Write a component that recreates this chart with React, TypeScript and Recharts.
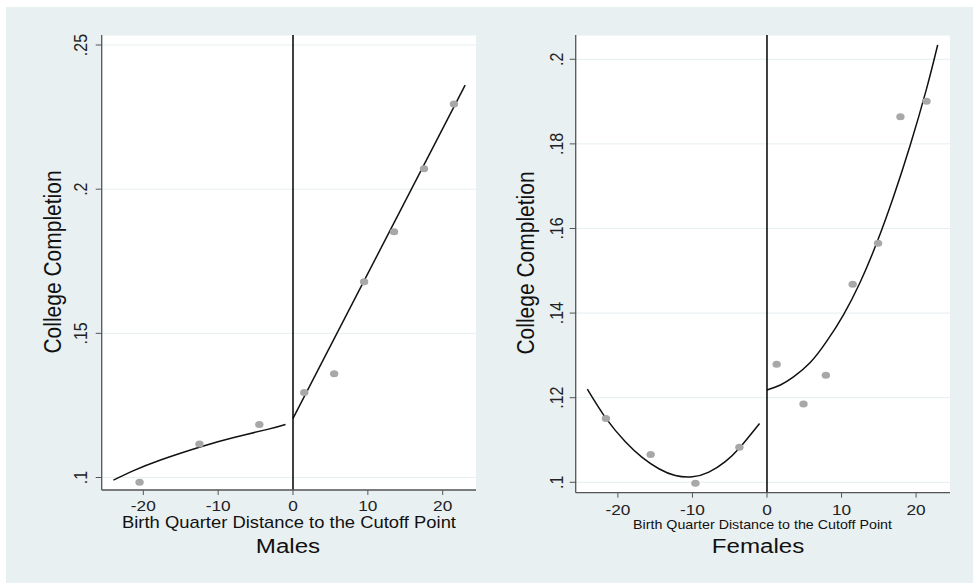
import React from 'react';
import { ComposedChart, Line, Scatter, XAxis, YAxis, CartesianGrid, ReferenceLine } from 'recharts';

// ---- data ----
const xTicks = [-20, -10, 0, 10, 20];
const maleYTicks = [0.1, 0.15, 0.2, 0.25];
const femaleYTicks = [0.1, 0.12, 0.14, 0.16, 0.18, 0.2];

const malePointX = [-20.5, -12.5, -4.5, 1.5, 5.5, 9.5, 13.5, 17.5, 21.5];
const malePointY = [0.0984, 0.1116, 0.1184, 0.1295, 0.136, 0.1679, 0.1852, 0.2071, 0.2295];

const maleFitLeftX = [-24, -21.3, -17.7, -12.3, -7.9, -3.4, -1];
const maleFitLeftY = [0.0991, 0.1024, 0.1061, 0.1107, 0.1139, 0.1167, 0.1184];

const maleFitRightX = [0, 23];
const maleFitRightY = [0.1205, 0.2361];

const femalePointX = [-21.6, -15.6, -9.6, -3.7, 1.3, 4.9, 7.9, 11.5, 14.9, 17.9, 21.4];
const femalePointY = [0.1151, 0.1066, 0.0998, 0.1083, 0.1279, 0.1185, 0.1253, 0.1468, 0.1565, 0.1864, 0.1901];

const femaleFitLeftX = [-24.1, -21.6, -19, -16.75, -14.5, -12.3, -10, -7.8, -5.6, -3.6, -1];
const femaleFitLeftY = [0.122, 0.1151, 0.1096, 0.1059, 0.1032, 0.1016, 0.1013, 0.1024, 0.1049, 0.1083, 0.1139];

const femaleFitRightX = [0, 1.8, 3.56, 5.8, 8, 10.26, 12.5, 14.7, 16.95, 19.2, 21.4, 22.9];
const femaleFitRightY = [0.1218, 0.123, 0.1249, 0.1283, 0.1333, 0.1396, 0.1473, 0.1565, 0.1674, 0.1796, 0.193, 0.2034];

const yTitle = 'College Completion';
const xTitle = 'Birth Quarter Distance to the Cutoff Point';
const maleTitle = 'Males';
const femaleTitle = 'Females';

// ---- helpers ----
const zip = (xs: number[], ys: number[]) => xs.map((x, i) => ({ x, y: ys[i] }));
const FONT = '"Liberation Sans", Arial, sans-serif';
const SX = 1.15;
const AXIS = '#555';
const BG = '#E9F0F2';
const fmtY = (v: number) => String(v).replace(/^0/, '');

type PanelProps = {
  left: number;
  width: number;
  margin: { top: number; right: number; bottom: number; left: number };
  xDomain: [number, number];
  yDomain: [number, number];
  yTicks: number[];
  points: { x: number; y: number }[];
  fits: { x: number; y: number }[][];
  yTickX: number;
  xTickY: number;
};

function Panel(p: PanelProps) {
  const XTick = (t: any) => (
    <text
      transform={`translate(${t.x},${p.xTickY}) scale(${SX},1)`}
      textAnchor="middle"
      fontSize={15}
      fontFamily={FONT}
      fill="#222"
    >
      {String(t.payload.value)}
    </text>
  );
  const YTick = (t: any) => (
    <text
      transform={`translate(${p.yTickX},${t.y}) scale(${SX},1) rotate(-90)`}
      textAnchor="middle"
      fontSize={16}
      fontFamily={FONT}
      fill="#222"
    >
      {fmtY(t.payload.value)}
    </text>
  );
  const Dot = (s: any) => <ellipse cx={s.cx} cy={s.cy} rx={4.2} ry={3.5} fill="#A8A8A8" />;
  return (
    <div style={{ position: 'absolute', left: p.left, top: 0 }}>
      <ComposedChart width={p.width} height={583} margin={p.margin}>
        <CartesianGrid horizontal vertical={false} fill="#ffffff" stroke="#E6EFF1" strokeWidth={1} />
        <XAxis
          type="number"
          dataKey="x"
          domain={p.xDomain}
          ticks={xTicks}
          allowDataOverflow
          height={30}
          tickSize={5}
          tick={XTick}
          stroke={AXIS}
          axisLine={{ stroke: AXIS, strokeWidth: 1.3 }}
          tickLine={{ stroke: AXIS }}
        />
        <YAxis
          type="number"
          dataKey="y"
          domain={p.yDomain}
          ticks={p.yTicks}
          allowDataOverflow
          width={60}
          tickSize={6}
          tick={YTick}
          stroke={AXIS}
          axisLine={{ stroke: AXIS, strokeWidth: 1.3 }}
          tickLine={{ stroke: AXIS }}
        />
        <Scatter data={p.points} shape={Dot} isAnimationActive={false} />
        {p.fits.map((f, i) => (
          <Line
            key={i}
            data={f}
            dataKey="y"
            type="natural"
            stroke="#111"
            strokeWidth={1.5}
            dot={false}
            activeDot={false}
            isAnimationActive={false}
          />
        ))}
        <ReferenceLine x={0} stroke="#000" strokeWidth={1.5} />
      </ComposedChart>
    </div>
  );
}

export default function App() {
  return (
    <div style={{ position: 'absolute', left: 0, top: 0, width: 973, height: 583, background: '#fff', overflow: 'hidden' }}>
      <div style={{ position: 'absolute', left: 6, top: 7, right: 0, bottom: 0, background: BG }} />
      <Panel
        left={0}
        width={490}
        margin={{ top: 35, right: 14, bottom: 63, left: 41.7 }}
        xDomain={[-25.56, 24.45]}
        yDomain={[0.09567, 0.25347]}
        yTicks={maleYTicks}
        points={zip(malePointX, malePointY)}
        fits={[zip(maleFitLeftX, maleFitLeftY), zip(maleFitRightX, maleFitRightY)]}
        yTickX={87}
        xTickY={511.3}
      />
      <Panel
        left={490}
        width={483}
        margin={{ top: 35, right: 23, bottom: 60.3, left: 25.7 }}
        xDomain={[-25.66, 24.55]}
        yDomain={[0.09754, 0.20574]}
        yTicks={femaleYTicks}
        points={zip(femalePointX, femalePointY)}
        fits={[zip(femaleFitLeftX, femaleFitLeftY), zip(femaleFitRightX, femaleFitRightY)]}
        yTickX={72.6}
        xTickY={514.8}
      />
      <svg width={973} height={583} style={{ position: 'absolute', left: 0, top: 0, pointerEvents: 'none' }}>
        <g fontFamily={FONT} fill="#111">
          <text transform={`translate(61,262) scale(${SX},1) rotate(-90)`} textAnchor="middle" fontSize={21}>{yTitle}</text>
          <text transform={`translate(534,263) scale(${SX},1) rotate(-90)`} textAnchor="middle" fontSize={21}>{yTitle}</text>
          <text transform={`translate(289,528.2) scale(${SX},1)`} textAnchor="middle" fontSize={16}>{xTitle}</text>
          <text transform={`translate(762.5,528.8) scale(${SX},1)`} textAnchor="middle" fontSize={12.4}>{xTitle}</text>
          <text transform={`translate(288,552.5) scale(${SX},1)`} textAnchor="middle" fontSize={21}>{maleTitle}</text>
          <text transform={`translate(758,553) scale(${SX},1)`} textAnchor="middle" fontSize={21}>{femaleTitle}</text>
        </g>
      </svg>
    </div>
  );
}
